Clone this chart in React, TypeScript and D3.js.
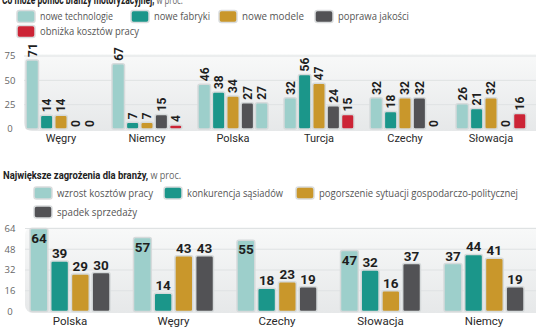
import React from "react";
import * as d3 from "d3";

// ---------- Top chart data ----------
const topTitleBold = "Co może pomóc branży motoryzacyjnej,";
const topTitleRest = " w proc.";
const topSeries = ["nowe technologie", "nowe fabryki", "nowe modele", "poprawa jakości", "obniżka kosztów pracy"];
const topCategories = ["Węgry", "Niemcy", "Polska", "Turcja", "Czechy", "Słowacja"];
const topNoweTechnologie = [71, 67, 46, 32, 32, 26];
const topNoweFabryki = [14, 7, 38, 56, 18, 21];
const topNoweModele = [14, 7, 34, 47, 32, 32];
const topPoprawaJakosci = [0, 15, 27, 24, 32, 0];
const topObnizka = [0, 4, 27, 15, 0, 16];
const topTicks = [0, 25, 50, 75];

// ---------- Bottom chart data ----------
const botTitleBold = "Największe zagrożenia dla branży,";
const botTitleRest = " w proc.";
const botSeries = ["wzrost kosztów pracy", "konkurencja sąsiadów", "pogorszenie sytuacji gospodarczo-politycznej", "spadek sprzedaży"];
const botCategories = ["Polska", "Węgry", "Czechy", "Słowacja", "Niemcy"];
const botWzrost = [64, 57, 55, 47, 37];
const botKonkurencja = [39, 14, 18, 32, 44];
const botPogorszenie = [29, 43, 23, 16, 41];
const botSpadek = [30, 43, 19, 37, 19];
const botTicks = [0, 16, 32, 48, 64];

// ---------- styles ----------
const COLORS = ["#9dcfcb", "#1b968a", "#c9972b", "#525255", "#cc2436"];
// in the reference, the last Polska bar of the top chart is drawn in the light colour
const colorOverride: Record<string, string> = { "Polska-4": "#9dcfcb" };

const LEG_FONT = "'Open Sans', sans-serif";
const LAB_FONT = "Roboto, sans-serif";

function Swatch({ x, y, color }: { x: number; y: number; color: string }) {
  return <rect x={x} y={y - 6} width={18} height={12} rx={2.5} fill={color} stroke="#d9dcdd" strokeWidth={1.5} />;
}

export default function App() {
  const W = 536, H = 332;

  const topValues = [topNoweTechnologie, topNoweFabryki, topNoweModele, topPoprawaJakosci, topObnizka];
  const tx0 = d3.scaleBand<string>().domain(topCategories).range([18, 534]).paddingInner(0).paddingOuter(0);
  const tx1 = d3.scaleBand<number>().domain(d3.range(topSeries.length)).range([-35, 35]).paddingInner(0.13);
  const ty = d3.scaleLinear().domain([0, 75]).range([129, 56]);

  const botValues = [botWzrost, botKonkurencja, botPogorszenie, botSpadek];
  const bx0 = d3.scaleBand<string>().domain(botCategories).range([18.25, 535.75]).paddingInner(0).paddingOuter(0);
  const bx1 = d3.scaleBand<number>().domain(d3.range(botSeries.length)).range([-40, 40]).paddingInner(0.14);
  const by = d3.scaleLinear().domain([0, 64]).range([311.5, 228.5]);

  const topLegend = [
    { x: 17, y: 16.5, w: 73 },
    { x: 131, y: 16.5, w: 56 },
    { x: 219, y: 16.5, w: 62 },
    { x: 315, y: 16.5, w: 71 },
    { x: 17, y: 31.5, w: 99 },
  ];
  const botLegend = [
    { x: 34, y: 193, w: 96 },
    { x: 164, y: 193, w: 96 },
    { x: 296, y: 193, w: 199 },
    { x: 34, y: 212, w: 80 },
  ];

  return (
    <svg width={W} height={H} style={{ position: "absolute", left: 0, top: 0 }}>
      <defs>
        <linearGradient id="bgGrad" x1="0" y1="0" x2="0" y2="1">
          <stop offset="0" stopColor="#f8f9f9" />
          <stop offset="1" stopColor="#e6e8e9" />
        </linearGradient>
      </defs>
      <rect width={W} height={H} fill="#ffffff" />

      {/* ===== TOP CHART ===== */}
      <g transform="translate(2,4) scale(0.71,1)">
        <text x={0} y={0} fontFamily={LAB_FONT} fontSize={12} fill="#222">
          <tspan fontWeight="bold">{topTitleBold}</tspan>
          <tspan fontFamily={LEG_FONT} fontSize={11} fill="#666">{topTitleRest}</tspan>
        </text>
      </g>
      {topSeries.map((s, i) => (
        <g key={s}>
          <Swatch x={topLegend[i].x} y={topLegend[i].y} color={COLORS[i]} />
          <text x={topLegend[i].x + 23} y={topLegend[i].y} dy="0.35em" fontFamily={LEG_FONT} fontSize={11} fill="#555"
            textLength={topLegend[i].w} lengthAdjust="spacingAndGlyphs">{s}</text>
        </g>
      ))}
      <rect x={24} y={54} width={530} height={77} rx={8} fill="url(#bgGrad)" />
      {topTicks.map((t) => (
        <g key={t}>
          {t > 0 && <line x1={24} x2={536} y1={ty(t)} y2={ty(t)} stroke="#dfe2e3" strokeWidth={1} />}
          <text x={10} y={ty(t)} dy="0.35em" textAnchor="middle" fontFamily={LEG_FONT} fontSize={9.5} fill="#666">{t}</text>
        </g>
      ))}
      {topCategories.map((c, ci) => {
        const cx = (tx0(c) as number) + tx0.bandwidth() / 2;
        return (
          <g key={c}>
            {topSeries.map((s, si) => {
              const v = topValues[si][ci];
              const x = cx + (tx1(si) as number);
              const w = tx1.bandwidth();
              const yTop = ty(v);
              const col = colorOverride[`${c}-${si}`] || COLORS[si];
              return (
                <g key={s}>
                  {v > 0 && <rect x={x} y={yTop} width={w} height={ty(0) - yTop} rx={2} fill={col} stroke="#d6dadb" strokeWidth={1.5} />}
                  <text
                    transform={`translate(${x + w / 2},${v > 0 ? yTop - 3 : ty(0) - 2}) rotate(-90)`}
                    dy="0.36em"
                    fontFamily={LAB_FONT}
                    fontWeight="bold"
                    fontSize={12}
                    fill="#1e1e1e"
                  >
                    {v}
                  </text>
                </g>
              );
            })}
            <text x={cx} y={142} textAnchor="middle" fontFamily={LAB_FONT} fontSize={11} fill="#2a2a2a">{c}</text>
          </g>
        );
      })}

      {/* ===== BOTTOM CHART ===== */}
      <g transform="translate(3,179) scale(0.86,1)">
        <text x={0} y={0} fontFamily={LAB_FONT} fontSize={11} fill="#222">
          <tspan fontWeight="bold">{botTitleBold}</tspan>
          <tspan fontFamily={LEG_FONT} fontSize={10.5} fill="#666">{botTitleRest}</tspan>
        </text>
      </g>
      {botSeries.map((s, i) => (
        <g key={s}>
          <Swatch x={botLegend[i].x} y={botLegend[i].y} color={COLORS[i]} />
          <text x={botLegend[i].x + 23} y={botLegend[i].y} dy="0.35em" fontFamily={LEG_FONT} fontSize={11} fill="#555"
            textLength={botLegend[i].w} lengthAdjust="spacingAndGlyphs">{s}</text>
        </g>
      ))}
      <rect x={25} y={227} width={530} height={86} rx={8} fill="url(#bgGrad)" />
      {botTicks.map((t) => (
        <g key={t}>
          {t > 0 && <line x1={25} x2={536} y1={by(t)} y2={by(t)} stroke="#dfe2e3" strokeWidth={1} />}
          <text x={10} y={by(t)} dy="0.35em" textAnchor="middle" fontFamily={LEG_FONT} fontSize={9.5} fill="#666">{t}</text>
        </g>
      ))}
      {botCategories.map((c, ci) => {
        const cx = (bx0(c) as number) + bx0.bandwidth() / 2;
        return (
          <g key={c}>
            {botSeries.map((s, si) => {
              const v = botValues[si][ci];
              const x = cx + (bx1(si) as number);
              const w = bx1.bandwidth();
              const yTop = by(v);
              const inside = v > 45;
              return (
                <g key={s}>
                  <rect x={x} y={yTop} width={w} height={by(0) - yTop} rx={2} fill={COLORS[si]} stroke="#d6dadb" strokeWidth={1.5} />
                  <text
                    x={x + w / 2}
                    y={inside ? yTop + 14 : yTop - 3}
                    textAnchor="middle"
                    fontFamily={LAB_FONT}
                    fontWeight="bold"
                    fontSize={13.5}
                    fill="#1e1e1e"
                  >
                    {v}
                  </text>
                </g>
              );
            })}
            <text x={cx} y={325} textAnchor="middle" fontFamily={LAB_FONT} fontSize={11.5} fill="#2a2a2a">{c}</text>
          </g>
        );
      })}
    </svg>
  );
}
